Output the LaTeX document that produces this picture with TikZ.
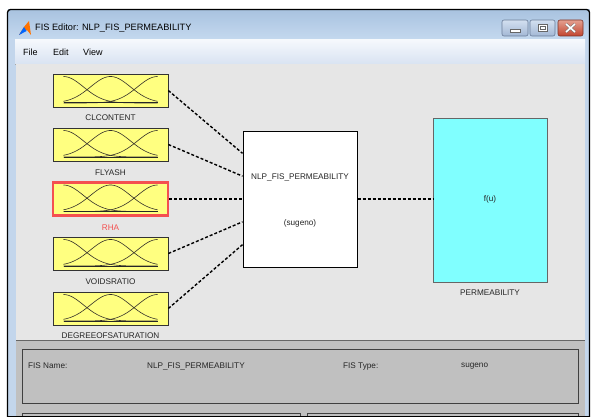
\documentclass[tikz,border=0pt]{standalone}
\usepackage{fontspec}
\setmainfont{Liberation Sans}
\usetikzlibrary{calc}

\definecolor{panelgray}{HTML}{E6E6E6}
\definecolor{lowgray}{HTML}{C0C0C0}
\definecolor{mfyellow}{HTML}{FFFF80}
\definecolor{outcyan}{HTML}{80FFFF}
\definecolor{selred}{HTML}{F45050}
\definecolor{framblue}{HTML}{C3D6EC}
\definecolor{txtgray}{HTML}{262626}
\definecolor{titletop}{HTML}{A9C3E0}
\definecolor{titlebot}{HTML}{C5D9EF}
\definecolor{menutop}{HTML}{F5F8FC}
\definecolor{menubot}{HTML}{D9E3F2}
\definecolor{btntop}{HTML}{D3E0F0}
\definecolor{btnbot}{HTML}{A3B8D5}
\definecolor{btnedge}{HTML}{6A7C98}
\definecolor{closetop}{HTML}{E4A090}
\definecolor{closebot}{HTML}{C2452F}
\definecolor{closeedge}{HTML}{7E3226}

\tikzset{
  mfbox/.style={draw=black!80, line width=0.7pt, fill=mfyellow, minimum width=115pt,
    minimum height=33pt, inner sep=0pt},
  selbox/.style={mfbox, draw=selred, line width=2.2pt},
  fisbox/.style={draw=black, line width=1pt, fill=white, minimum width=114pt,
    minimum height=136pt, inner sep=0pt},
  outbox/.style={draw=black!60, line width=0.8pt, fill=outcyan, minimum width=114pt,
    minimum height=164pt, inner sep=0pt},
  lbl/.style={font=\fontsize{8.2}{9.5}\selectfont, text=txtgray, inner sep=0pt},
  lblsel/.style={lbl, text=selred},
  conn/.style={draw=black, line width=1.4pt, dash pattern=on 3pt off 2pt},
  mfline/.style={draw=black!85!olive, line width=0.6pt},
  winbtn/.style={draw=btnedge, line width=0.6pt, rounded corners=2pt,
    top color=btntop, bottom color=btnbot},
  menutxt/.style={font=\fontsize{9}{10}\selectfont, text=black, inner sep=0pt, anchor=west},
}

% three Gaussian membership curves drawn inside an input box
\newcommand\mfcurves[1]{%
  \begin{scope}[shift={(#1)}]
    \draw[mfline] plot[domain=-47:47,samples=40,smooth]
      (\x,{12.5-26.5*exp(-1*((\x)+47)*((\x)+47)/800)});
    \draw[mfline] plot[domain=-47:47,samples=40,smooth]
      (\x,{12.5-26.5*exp(-1*(\x)*(\x)/800)});
    \draw[mfline] plot[domain=-47:47,samples=40,smooth]
      (\x,{12.5-26.5*exp(-1*((\x)-47)*((\x)-47)/800)});
    \draw[black!85, line width=1pt] (-47,12.5) -- (47,12.5);
  \end{scope}}

\begin{document}
\begin{tikzpicture}[x=1pt,y=-1pt]
\useasboundingbox (0,0) rectangle (591,417);
\fill[white] (0,0) rectangle (591,417);

% window frame
\fill[framblue] (7.5,9.5) rectangle (590,417);
\shade[top color=titletop, bottom color=titlebot] (8,10) rectangle (589,40);
\draw[black, line width=1.3pt, rounded corners=3pt] (7.5,418) -- (7.5,9.5) -- (589.5,9.5) -- (589.5,418);
\draw[black, line width=1pt] (7.5,416.3) -- (589.5,416.3);

% application icon
\fill[orange!90!red] (19,35) -- (24,27) -- (29,21) -- (31,35) -- (27,30) -- cycle;
\fill[blue!60!cyan] (19,35) -- (24,27) -- (26.5,31) -- cycle;
\node[anchor=west, inner sep=0pt, font=\fontsize{9.2}{10}\selectfont] (title) at (35,28)
  {FIS Editor: NLP\_FIS\_PERMEABILITY};

% window buttons
\draw[winbtn] (502,20) rectangle (528,36);
\draw[black!60, fill=white, line width=0.5pt] (510,29) rectangle (520,32);
\draw[winbtn] (530,20) rectangle (555,36);
\draw[black!60, fill=white, line width=0.5pt] (538,24) rectangle (547,31);
\draw[black!60, line width=0.5pt] (540,26) rectangle (545,29);
\draw[draw=closeedge, line width=0.6pt, rounded corners=2pt,
  top color=closetop, bottom color=closebot] (558,20) rectangle (583,36);
\draw[black!55, line width=2.6pt] (566,24) -- (575,32) (575,24) -- (566,32);
\draw[white, line width=1.6pt] (566,24) -- (575,32) (575,24) -- (566,32);

% menu bar
\shade[top color=menutop, bottom color=menubot] (15,40) rectangle (585,64);
\draw[black!35] (15,64) -- (585,64);
\node[menutxt] (mfile) at (23,52) {File};
\node[menutxt] (medit) at (53,52) {Edit};
\node[menutxt] (mview) at (83,52) {View};

% diagram area
\fill[panelgray] (16,64.5) rectangle (585,340);

% input membership boxes
\node[mfbox] (clc) at (110.5,90.5) {};
\node[mfbox] (fly) at (110.5,144.5) {};
\node[selbox] (rha) at (110.5,199) {};
\node[mfbox] (void) at (110.5,253.5) {};
\node[mfbox] (deg) at (110.5,308.5) {};
\mfcurves{clc}
\mfcurves{fly}
\mfcurves{rha}
\mfcurves{void}
\mfcurves{deg}

\node[lbl] (clcl) at (110.5,118) {CLCONTENT};
\node[lbl] (flyl) at (110.5,173) {FLYASH};
\node[lblsel] (rhal) at (110.5,228) {RHA};
\node[lbl] (voidl) at (110.5,282) {VOIDSRATIO};
\node[lbl] (degl) at (110.5,336) {DEGREEOFSATURATION};

% rule block and output
\node[fisbox] (fis) at (300,199) {};
\node[lbl] (fisname) at (300,177) {NLP\_FIS\_PERMEABILITY};
\node[lbl] (fistype) at (300,223) {(sugeno)};

\node[outbox] (out) at (490,200) {};
\node[lbl] (fu) at (490,199) {f(u)};
\node[lbl] (outl) at (490,293) {PERMEABILITY};

% connectors
\draw[conn] (clc.east) -- ($(fis.north west)!0.1667!(fis.south west)$);
\draw[conn] (fly.east) -- ($(fis.north west)!0.3333!(fis.south west)$);
\draw[conn] (rha.east) -- (fis.west);
\draw[conn] (void.east) -- ($(fis.north west)!0.6667!(fis.south west)$);
\draw[conn] (deg.east) -- ($(fis.north west)!0.8333!(fis.south west)$);
\draw[conn] (fis.east) -- (fis.east -| out.west);

% lower information panel
\fill[lowgray] (16,340) rectangle (585,416);
\draw[black!60, line width=0.7pt] (16,340) -- (585,340);
\draw[black!75, line width=0.8pt] (22.5,349.5) rectangle (578.5,403.5);
\node[lbl, anchor=west] (fnl) at (28,366) {FIS Name:};
\node[lbl, anchor=west] (fnv) at (147,366) {NLP\_FIS\_PERMEABILITY};
\node[lbl, anchor=west] (ftl) at (343,366) {FIS Type:};
\node[lbl, anchor=west] (ftv) at (461,366) {sugeno};
\draw[black!75, line width=0.8pt] (22.5,416) -- (22.5,413.5) -- (300,413.5) -- (300,416);
\draw[black!75, line width=0.8pt] (307,416) -- (307,413.5) -- (578.5,413.5) -- (578.5,416);
\end{tikzpicture}
\end{document}
